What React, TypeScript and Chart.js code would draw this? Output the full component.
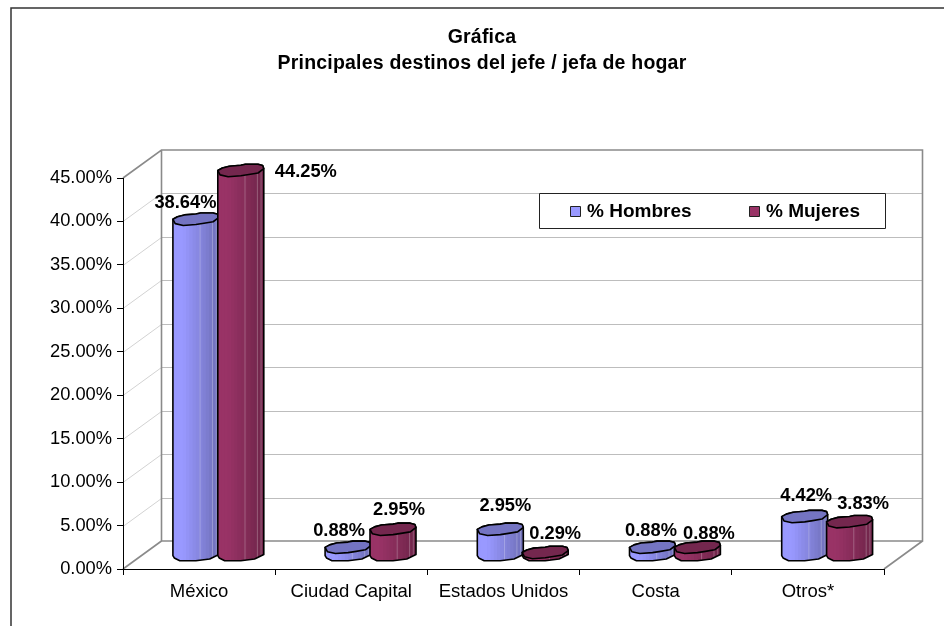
import React, { useEffect, useRef } from "react";
import { Chart, registerables } from "chart.js";

Chart.register(...registerables);

const categories = ["México", "Ciudad Capital", "Estados Unidos", "Costa", "Otros*"];
const hombres = [38.64, 0.88, 2.95, 0.88, 4.42];
const mujeres = [44.25, 2.95, 0.29, 0.88, 3.83];
const seriesNames = ["% Hombres", "% Mujeres"];
const titleLines = ["Gráfica", "Principales destinos del jefe / jefa de hogar"];

// hand-placed label nudges, relative to the top of each cylinder
const labelShiftH = [[-10.5, -18], [-9, -18], [5, -25], [-1.5, -18], [1.5, -22.6]];
const labelShiftM = [[65, 0], [6, -21], [10, -20], [11.5, -15], [13.5, -19]];

const BLUE: [number, number, number] = [153, 153, 255];
const RED: [number, number, number] = [153, 51, 102];
const FONT = '"Liberation Sans", Arial, sans-serif';
const DEPTH_X = 38.5;
const DEPTH_Y = -28;
const RX = 23;
const RY = 6.2;

// slightly irregular low-poly outline of the cylinder cap and base
const capShape: [number, number][] = [
  [-1, 0], [-0.8, -0.4], [-0.5, -0.7], [0, -0.85], [0.2, -1], [0.75, -1], [0.95, -0.8], [1, -0.3],
  [0.75, 0.4], [0.35, 0.65], [0, 0.85], [-0.55, 1], [-0.9, 0.7],
];
const upperEdge = capShape.slice(1, 7);
const baseEdge: [number, number][] = [[1, 0], [0.6, 0.72], [0, 1], [-0.7, 1], [-0.94, 0.56], [-1, 0.17]];

const rgb = (c: number[], f: number) =>
  `rgb(${Math.min(255, Math.round(c[0] * f))},${Math.min(255, Math.round(c[1] * f))},${Math.min(255, Math.round(c[2] * f))})`;

function drawCylinder(ctx: CanvasRenderingContext2D, cx: number, topY: number, baseY: number, col: number[]) {
  const body = () => {
    ctx.beginPath();
    ctx.moveTo(cx + RX, topY - 0.3 * RY);
    for (const [u, v] of baseEdge) ctx.lineTo(cx + u * RX, baseY + v * RY);
    ctx.lineTo(cx - RX, topY);
    for (const [u, v] of upperEdge) ctx.lineTo(cx + u * RX, topY + v * RY);
    ctx.closePath();
  };
  ctx.save();
  body();
  ctx.clip();
  const n = 14;
  for (let i = 0; i < n; i++) {
    const t = i / (n - 1);
    ctx.fillStyle = rgb(col, 1 - 0.27 * Math.max(0, (t - 0.2) / 0.8));
    ctx.fillRect(cx - RX + (i * 2 * RX) / n, topY - RY - 1, (2 * RX) / n + 1, baseY - topY + 2 * RY + 2);
  }
  ctx.fillStyle = "rgba(255,255,255,0.25)";
  for (const t of [0.58, 0.85, 0.93]) ctx.fillRect(cx - RX + t * 2 * RX, topY, 1, baseY - topY + RY);
  ctx.restore();

  ctx.lineWidth = 1.6;
  ctx.lineJoin = "round";
  ctx.strokeStyle = "#000";
  body();
  ctx.stroke();

  ctx.beginPath();
  capShape.forEach(([u, v], i) => {
    const x = cx + u * RX;
    const y = topY + v * RY;
    if (i) ctx.lineTo(x, y);
    else ctx.moveTo(x, y);
  });
  ctx.closePath();
  ctx.fillStyle = rgb(col, 0.76);
  ctx.fill();
  ctx.stroke();
}

const scene3d = {
  id: "scene3d",
  beforeDraw(chart: any) {
    const { ctx, chartArea: a, scales } = chart;
    ctx.save();
    // outer frame: top and left only are inside the picture
    ctx.strokeStyle = "#333";
    ctx.lineWidth = 1.5;
    ctx.beginPath();
    ctx.moveTo(944, 8);
    ctx.lineTo(11, 8);
    ctx.lineTo(11, 626);
    ctx.stroke();
    // title
    ctx.fillStyle = "#000";
    ctx.textAlign = "center";
    ctx.textBaseline = "middle";
    ctx.font = `bold 19.5px ${FONT}`;
    ctx.letterSpacing = "0.2px";
    ctx.fillText(titleLines[0], 482, 38);
    ctx.fillText(titleLines[1], 482, 64);
    ctx.letterSpacing = "0px";
    // grid on the side and back walls
    const backL = a.left + DEPTH_X;
    const backR = a.right + DEPTH_X;
    ctx.lineWidth = 1;
    for (const tick of scales.y.ticks) {
      const y = Math.round(scales.y.getPixelForValue(tick.value)) + 0.5;
      if (tick.value > 0 && tick.value < 45) {
        ctx.strokeStyle = "#d2d2d2";
        ctx.beginPath();
        ctx.moveTo(a.left, y);
        ctx.lineTo(backL, y + DEPTH_Y);
        ctx.stroke();
        ctx.strokeStyle = "#bdbdbd";
        ctx.beginPath();
        ctx.moveTo(backL, y + DEPTH_Y);
        ctx.lineTo(backR, y + DEPTH_Y);
        ctx.stroke();
      }
    }
    ctx.strokeStyle = "#8a8a8a";
    ctx.lineWidth = 1.6;
    ctx.beginPath();
    ctx.moveTo(a.left, a.top);
    ctx.lineTo(backL, a.top + DEPTH_Y);
    ctx.lineTo(backR, a.top + DEPTH_Y);
    ctx.lineTo(backR, a.bottom + DEPTH_Y);
    ctx.lineTo(backL, a.bottom + DEPTH_Y);
    ctx.lineTo(backL, a.top + DEPTH_Y);
    ctx.moveTo(backL, a.bottom + DEPTH_Y);
    ctx.lineTo(a.left, a.bottom);
    ctx.moveTo(backR, a.bottom + DEPTH_Y);
    ctx.lineTo(a.right, a.bottom);
    ctx.stroke();
    ctx.restore();
  },
  beforeDatasetDraw() {
    return false;
  },
  afterDatasetsDraw(chart: any) {
    const { ctx } = chart;
    const metaH = chart.getDatasetMeta(0);
    const metaM = chart.getDatasetMeta(1);
    ctx.save();
    categories.forEach((_, i) => {
      [[metaH, BLUE], [metaM, RED]].forEach(([meta, col]: any) => {
        const el = meta.data[i];
        drawCylinder(ctx, el.x + DEPTH_X / 2, el.y + DEPTH_Y / 2, el.base + DEPTH_Y / 2, col);
      });
    });
    // legend box
    ctx.fillStyle = "#fff";
    ctx.strokeStyle = "#222";
    ctx.lineWidth = 1;
    ctx.fillRect(539.5, 193.5, 346, 35);
    ctx.strokeRect(539.5, 193.5, 346, 35);
    ctx.font = `bold 19px ${FONT}`;
    ctx.textAlign = "left";
    ctx.textBaseline = "middle";
    [[570, 587, BLUE], [749, 766, RED]].forEach(([sx, tx, col]: any, k) => {
      ctx.fillStyle = rgb(col, 1);
      ctx.fillRect(sx + 0.5, 206.5, 10, 10);
      ctx.strokeRect(sx + 0.5, 206.5, 10, 10);
      ctx.fillStyle = "#000";
      ctx.fillText(seriesNames[k], tx, 212);
    });
    // value labels
    ctx.font = `bold 18.3px ${FONT}`;
    ctx.textAlign = "center";
    ctx.fillStyle = "#000";
    [[metaH, hombres, labelShiftH], [metaM, mujeres, labelShiftM]].forEach(([meta, vals, shift]: any) => {
      vals.forEach((v: number, i: number) => {
        const el = meta.data[i];
        ctx.fillText(`${v.toFixed(2)}%`, el.x + DEPTH_X / 2 + shift[i][0], el.y + DEPTH_Y / 2 + shift[i][1] + 1.5);
      });
    });
    ctx.restore();
  },
};

export default function App() {
  const ref = useRef<HTMLCanvasElement>(null);
  useEffect(() => {
    const chart = new Chart(ref.current as HTMLCanvasElement, {
      type: "bar",
      data: {
        labels: categories,
        datasets: [
          { label: seriesNames[0], data: hombres, backgroundColor: rgb(BLUE, 1), categoryPercentage: 0.59, barPercentage: 1 },
          { label: seriesNames[1], data: mujeres, backgroundColor: rgb(RED, 1), categoryPercentage: 0.59, barPercentage: 1 },
        ],
      },
      options: {
        responsive: false,
        animation: false,
        layout: { padding: { top: 178, right: 60, left: 0, bottom: 0 } },
        plugins: { legend: { display: false }, title: { display: false }, tooltip: { enabled: false } },
        scales: {
          x: {
            afterFit: (s: any) => { s.height = 57; },
            border: { color: "#000", width: 1 },
            grid: { drawOnChartArea: false, drawTicks: true, tickLength: 6, color: "#000" },
            ticks: { color: "#000", padding: 6, maxRotation: 0, autoSkip: false, font: { family: FONT, size: 18.5 } },
          },
          y: {
            min: 0,
            max: 45,
            afterFit: (s: any) => { s.width = 123; },
            border: { color: "#000", width: 1 },
            grid: { drawOnChartArea: false, drawTicks: true, tickLength: 6, color: "#000" },
            ticks: {
              stepSize: 5,
              color: "#000",
              padding: 5,
              font: { family: FONT, size: 18.3 },
              callback: (v: any) => `${Number(v).toFixed(2)}%`,
            },
          },
        },
      },
      plugins: [scene3d],
    } as any);
    return () => chart.destroy();
  }, []);
  return (
    <canvas
      ref={ref}
      width={944}
      height={626}
      style={{ position: "absolute", left: 0, top: 0, display: "block", background: "#fff" }}
    />
  );
}
